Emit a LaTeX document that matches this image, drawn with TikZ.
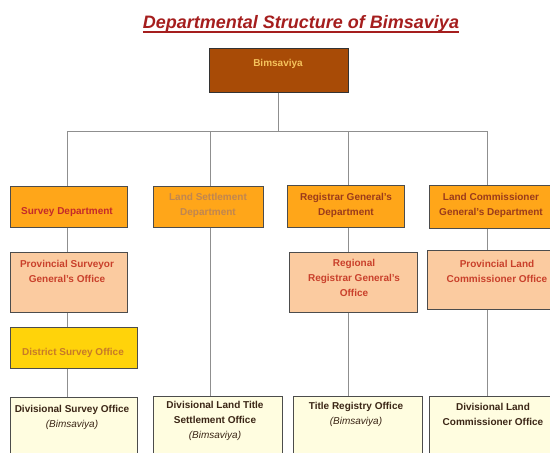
\documentclass[tikz,border=0pt]{standalone}
\usepackage{fontspec}
\setmainfont{Liberation Sans}
\definecolor{titlered}{HTML}{A51E1E}
\definecolor{rootbrown}{HTML}{A84B06}
\definecolor{rootgold}{HTML}{F6C35C}
\definecolor{deptorange}{HTML}{FFA619}
\definecolor{peach}{HTML}{FBCBA0}
\definecolor{gold}{HTML}{FFD30A}
\definecolor{cream}{HTML}{FFFDE0}
\definecolor{linkgray}{HTML}{8F8F8F}
\definecolor{surveyred}{HTML}{C42A2A}
\definecolor{fadedbrown}{HTML}{C08650}
\definecolor{deptbrown}{HTML}{9B3B1B}
\definecolor{offred}{HTML}{C9402B}
\definecolor{dsoamber}{HTML}{C77A28}
\definecolor{darkbrown}{HTML}{3B2616}
\newcommand{\bimsit}{\mdseries\itshape (Bimsaviya)}
\begin{document}
\begin{tikzpicture}[x=1pt,y=-1pt,
  box/.style={draw=black!70, line width=0.7pt, anchor=north west, inner sep=0pt},
  rootbox/.style={box, fill=rootbrown, draw=black!80},
  deptbox/.style={box, fill=deptorange},
  provbox/.style={box, fill=peach},
  distbox/.style={box, fill=gold},
  divbox/.style={box, fill=cream},
  txt/.style={font=\bfseries\fontsize{10}{15}\selectfont, align=center, inner sep=0pt},
  link/.style={draw=linkgray, line width=0.9pt}]
  \useasboundingbox (0,0) rectangle (550,453);
  \clip (0,0) rectangle (550,453);

  \node[font=\bfseries\itshape\fontsize{18}{20}\selectfont, text=titlered, anchor=base, inner sep=0pt]
    (title) at (301,28) {Departmental Structure of Bimsaviya};
  \draw[titlered, line width=1.2pt] ([yshift=-4pt]title.base west) -- ([yshift=-4pt]title.base east);

  \coordinate (j1) at (67,131);
  \coordinate (j2) at (210,131);
  \coordinate (j3) at (348,131);
  \coordinate (j4) at (487,131);

  \node[rootbox, minimum width=139, minimum height=44] (root) at (209,48) {};

  \node[deptbox, minimum width=117, minimum height=41] (sd) at (10,186) {};
  \node[deptbox, minimum width=110, minimum height=41] (ls) at (153,186) {};
  \node[deptbox, minimum width=117, minimum height=42] (rg) at (287,185) {};
  \node[deptbox, minimum width=140, minimum height=43] (lc) at (429,185) {};

  \node[provbox, minimum width=117, minimum height=60] (psg) at (10,252) {};
  \node[provbox, minimum width=128, minimum height=60] (rrg) at (289,252) {};
  \node[provbox, minimum width=140, minimum height=59] (plc) at (427,250) {};

  \node[distbox, minimum width=127, minimum height=41] (dso) at (10,327) {};

  \node[divbox, minimum width=127, minimum height=70] (dvs) at (10,397) {};
  \node[divbox, minimum width=129, minimum height=70] (dlt) at (153,396) {};
  \node[divbox, minimum width=129, minimum height=70] (tro) at (293,396) {};
  \node[divbox, minimum width=140, minimum height=70] (dlc) at (429,396) {};

  \draw[link] (root.south) -- (root.south |- j1);
  \draw[link] (j1) -- (j4);
  \foreach \J/\A in {j1/sd, j2/ls, j3/rg, j4/lc}
    \draw[link] (\J) -- (\J |- \A.north);
  \foreach \J/\A/\B in {j1/sd/psg, j1/psg/dso, j1/dso/dvs, j2/ls/dlt,
                        j3/rg/rrg, j3/rrg/tro, j4/lc/plc, j4/plc/dlc}
    \draw[link] (\J |- \A.south) -- (\J |- \B.north);

  \node[txt, text=rootgold] (root-t) at (278,64) {Bimsaviya};

  \node[txt, text=surveyred] (sd-t) at (67,212) {Survey Department};
  \node[txt, text=fadedbrown] (ls-t) at (208,205.5) {Land Settlement\\Department};
  \node[txt, text=deptbrown] (rg-t) at (346,205.5) {Registrar General's\\Department};
  \node[txt, text=deptbrown] (lc-t) at (491,205.5) {Land Commissioner\\General's Department};

  \node[txt, text=offred] (psg-t) at (67,271.5) {Provincial Surveyor\\General's Office};
  \node[txt, text=offred] (rrg-t) at (354,277.5) {Regional\\Registrar General's\\Office};
  \node[txt, text=offred] (plc-t) at (497,271.5) {Provincial Land\\Commissioner Office};

  \node[txt, text=dsoamber] (dso-t) at (73,353) {District Survey Office};

  \node[txt, text=darkbrown] (dvs-t) at (72,417.5) {Divisional Survey Office\\{\bimsit}};
  \node[txt, text=darkbrown] (dlt-t) at (215,421) {Divisional Land Title\\Settlement Office\\{\bimsit}};
  \node[txt, text=darkbrown] (tro-t) at (356,414) {Title Registry Office\\{\bimsit}};
  \node[txt, text=darkbrown] (dlc-t) at (493,414) {Divisional Land\\Commissioner Office};
\end{tikzpicture}
\end{document}
